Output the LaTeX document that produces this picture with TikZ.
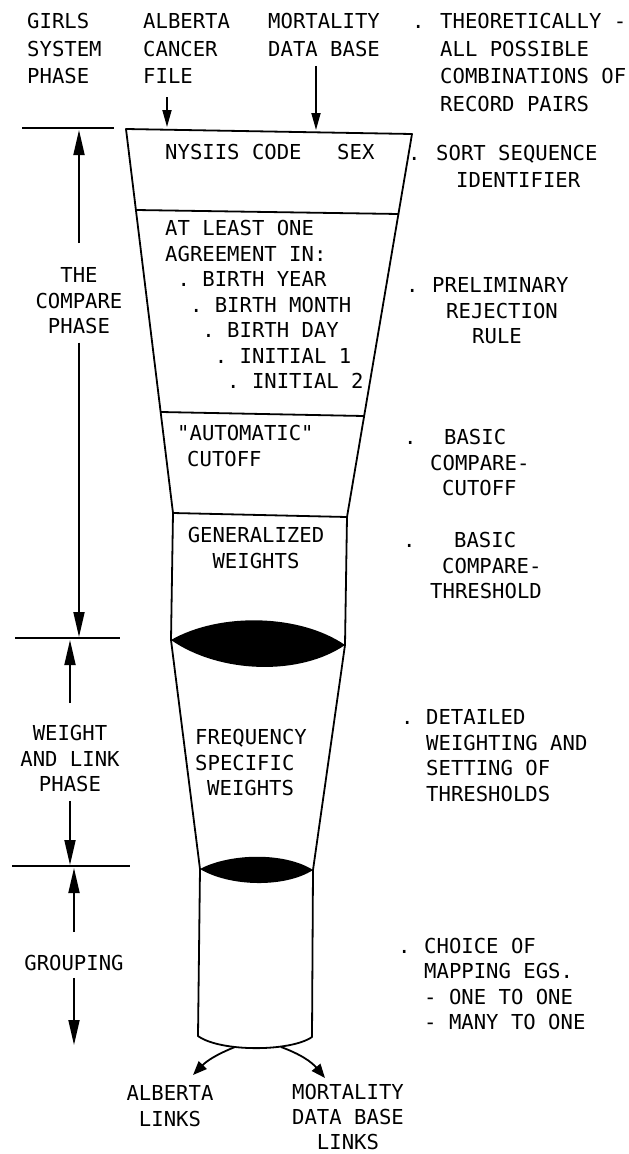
\documentclass[tikz,border=0pt]{standalone}
\usepackage{fontspec}
\setmonofont{DejaVu Sans Mono}
\usetikzlibrary{arrows.meta}
\newcommand{\ind}[1]{\hspace*{#1pt}}

\begin{document}
\begin{tikzpicture}[x=1pt, y=-1pt,
    txt/.style={font=\ttfamily\fontsize{20.6}{25.5}\selectfont, inner sep=0pt, align=left, anchor=north west},
    toptxt/.style={txt, font=\ttfamily\fontsize{20.6}{27.5}\selectfont},
    ctxt/.style={txt, align=center, anchor=north},
    rim/.style={line width=1.8pt, line join=round},
    phasearr/.style={-{Triangle[length=25pt, width=11pt]}, line width=1.8pt},
    feedarr/.style={-{Triangle[length=17pt, width=9pt]}, line width=1.8pt},
    linkarr/.style={-{Triangle[length=14pt, width=11pt]}, line width=1.8pt}
    ]
    \useasboundingbox (0,0) rectangle (629,1154);

    \node[toptxt] (girls) at (27,13.5) {GIRLS\\SYSTEM\\PHASE};
    \node[toptxt] (alberta) at (143,13.5) {ALBERTA\\CANCER\\FILE};
    \node[toptxt] (mortality) at (268,13.5) {MORTALITY\\DATA BASE};
    \node[toptxt] (theor) at (412,13.5) {.\ind{15.6}THEORETICALLY -\\\ind{28}ALL POSSIBLE\\\ind{28}COMBINATIONS OF\\\ind{28}RECORD PAIRS};

    \node[txt] (nysiis) at (165,144.5) {NYSIIS CODE};
    \node[txt] (sex) at (337,144.5) {SEX};
    \node[txt] (sortseq) at (408,145.5) {.\ind{15.6}SORT SEQUENCE\\[1.5pt]\ind{48}IDENTIFIER};

    \node[txt] (agree) at (165,220.5) {AT LEAST ONE\\AGREEMENT IN:\\\ind{12.4}. BIRTH YEAR\\\ind{24.8}. BIRTH MONTH\\\ind{37.2}. BIRTH DAY\\\ind{49.6}. INITIAL 1\\\ind{62}. INITIAL 2};
    \node[txt] (prelim) at (406,277.5) {.\ind{13.6}PRELIMINARY\\\ind{40}REJECTION\\\ind{66}RULE};

    \node[txt] (autocut) at (177,425.5) {"AUTOMATIC"\\\ind{10}CUTOFF};
    \node[txt] (basiccut) at (404,429.5) {.\ind{27.6}BASIC\\\ind{26}COMPARE-\\\ind{38}CUTOFF};

    \node[ctxt] (genwt) at (256,527.5) {GENERALIZED\\WEIGHTS};
    \node[txt] (basicthr) at (403,532.5) {.\ind{38.6}BASIC\\\ind{39}COMPARE-\\\ind{27}THRESHOLD};

    \node[ctxt] (cmp) at (79,267.5) {THE\\COMPARE\\PHASE};
    \node[ctxt] (wl) at (70,725.5) {WEIGHT\\AND LINK\\PHASE};
    \node[txt] (freq) at (195,729.5) {FREQUENCY\\SPECIFIC\\\ind{12}WEIGHTS};
    \node[txt] (detail) at (401,709.5) {.\ind{12.6}DETAILED\\\ind{25}WEIGHTING AND\\\ind{25}SETTING OF\\\ind{25}THRESHOLDS};

    \node[ctxt] (grp) at (74,954.5) {GROUPING};
    \node[txt] (choice) at (398,937.5) {.\ind{13.6}CHOICE OF\\\ind{26}MAPPING EGS.\\\ind{26}- ONE TO ONE\\\ind{26}- MANY TO ONE};

    \node[ctxt] (albLinks) at (170,1085.5) {ALBERTA\\LINKS};
    \node[ctxt] (mortLinks) at (348,1084) {MORTALITY\\[-0.5pt]DATA BASE\\[-0.5pt]LINKS};

    \coordinate (t1) at (126,129);
    \coordinate (t2) at (412,134);
    \coordinate (a1) at (136,210);
    \coordinate (a2) at (399,214);
    \coordinate (b1) at (161,412);
    \coordinate (b2) at (364,416);
    \coordinate (c1) at (173,513);
    \coordinate (c2) at (347,517);
    \coordinate (l1) at (171,640);
    \coordinate (l2) at (345,645);
    \coordinate (m1) at (200,869);
    \coordinate (m2) at (313,870);
    \coordinate (e1) at (198,1036);
    \coordinate (e2) at (312,1037);

    \draw[rim] (t1) -- (t2) -- (c2) -- (l2) -- (m2) -- (e2)
        .. controls (290,1052) and (220,1052) .. (e1) -- (m1) -- (l1) -- (c1) -- cycle;
    \draw[rim] (a1) -- (a2) (b1) -- (b2) (c1) -- (c2);
    \fill (l1) .. controls (220,612) and (300,614) .. (l2) .. controls (300,676) and (220,674) .. (l1);
    \fill (m1) .. controls (230,853) and (285,852) .. (m2) .. controls (285,888) and (230,887) .. (m1);

    \coordinate (h1a) at (22,128);
    \coordinate (h1b) at (114,128);
    \coordinate (h2a) at (15,638);
    \coordinate (h2b) at (120,638);
    \coordinate (h3a) at (12,866);
    \coordinate (h3b) at (130,866);
    \draw[rim] (h1a) -- (h1b) (h2a) -- (h2b) (h3a) -- (h3b);

    \coordinate (cmpUp) at (79,130);
    \coordinate (cmpDn) at (79,637);
    \coordinate (wlUp) at (70,640);
    \coordinate (wlDn) at (70,865);
    \coordinate (grpUp) at (74,868);
    \coordinate (grpDn) at (74,1045);
    \draw[phasearr] ([yshift=24.5pt]cmp.north) -- (cmpUp);
    \draw[phasearr] ([yshift=-8.5pt]cmp.south) -- (cmpDn);
    \draw[phasearr] ([yshift=22.5pt]wl.north) -- (wlUp);
    \draw[phasearr] ([yshift=-8.5pt]wl.south) -- (wlDn);
    \draw[phasearr] ([yshift=22.5pt]grp.north) -- (grpUp);
    \draw[phasearr] ([yshift=-7.5pt]grp.south) -- (grpDn);

    \coordinate (albIn) at (167,127);
    \coordinate (mortIn) at (316,130);
    \draw[feedarr] ([xshift=24pt,yshift=-13.5pt]alberta.south west) -- (albIn);
    \draw[feedarr] ([xshift=48pt,yshift=-9pt]mortality.south west) -- (mortIn);

    \coordinate (linkL) at (235,1047);
    \coordinate (linkR) at (281,1047);
    \draw[linkarr] (linkL) to[bend right=12] ([xshift=23pt,yshift=10.5pt]albLinks.north);
    \draw[linkarr] (linkR) to[bend left=15] ([xshift=-23pt,yshift=6pt]mortLinks.north);

\end{tikzpicture}
\end{document}
